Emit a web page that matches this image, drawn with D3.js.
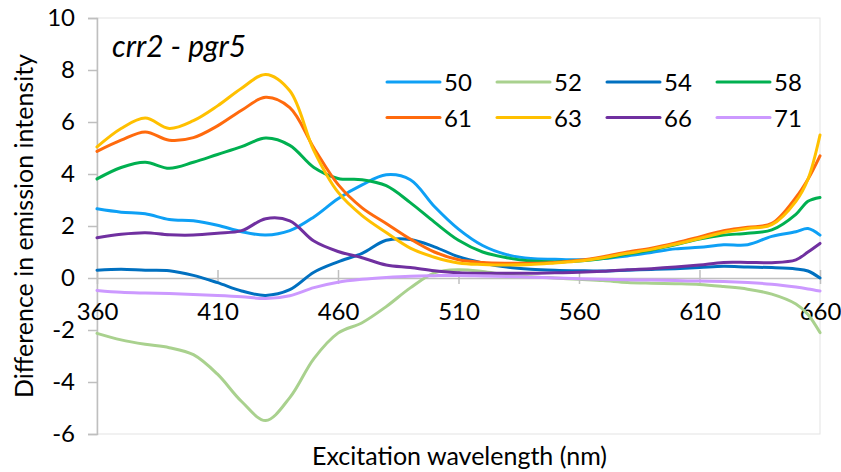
<!DOCTYPE html>
<html>
<head>
<meta charset="utf-8">
<script src="https://cdn.jsdelivr.net/npm/d3@7"></script>
<style>
  body { margin: 0; background: #fff; }
  svg text { font-family: Lato, "Open Sans", sans-serif; fill: #000; }
</style>
</head>
<body>
<svg id="chart" width="841" height="472"></svg>
<script>
// Excitation wavelengths (nm)
const wavelengths = [360, 370, 380, 390, 400, 410, 420, 430, 440, 450, 460, 470, 480, 490, 500,
  510, 520, 530, 540, 550, 560, 570, 580, 590, 600, 610, 620, 630, 640, 650, 655, 660];

const seriesNames = ["50", "52", "54", "58", "61", "63", "66", "71"];
const seriesColors = ["#0ea0f5", "#a9d18e", "#0070c0", "#00b050", "#ff6a0d", "#ffc000", "#7030a0", "#cc99ff"];

const s50 = [2.66, 2.53, 2.47, 2.25, 2.2, 2.03, 1.78, 1.65, 1.82, 2.35, 3.05, 3.58, 3.97, 3.78, 2.75,
  1.88, 1.25, 0.9, 0.75, 0.72, 0.7, 0.75, 0.85, 0.98, 1.12, 1.18, 1.28, 1.28, 1.6, 1.78, 1.9, 1.65];
const s52 = [-2.13, -2.38, -2.55, -2.68, -2.95, -3.7, -4.75, -5.48, -4.6, -3.1, -2.12, -1.72, -1.1, -0.38, 0.2,
  0.32, 0.25, 0.12, 0.05, 0.0, -0.05, -0.1, -0.17, -0.2, -0.22, -0.25, -0.33, -0.43, -0.62, -1.0, -1.4, -2.1];
const s54 = [0.3, 0.34, 0.3, 0.28, 0.1, -0.18, -0.5, -0.67, -0.45, 0.22, 0.62, 0.95, 1.45, 1.48, 1.2,
  0.82, 0.58, 0.42, 0.34, 0.3, 0.28, 0.27, 0.3, 0.33, 0.36, 0.4, 0.45, 0.42, 0.4, 0.35, 0.27, 0.0];
const s58 = [3.81, 4.25, 4.45, 4.22, 4.45, 4.75, 5.05, 5.38, 5.1, 4.25, 3.83, 3.78, 3.55, 2.9, 2.15,
  1.45, 1.0, 0.78, 0.65, 0.62, 0.65, 0.75, 0.92, 1.08, 1.28, 1.5, 1.65, 1.72, 1.85, 2.45, 2.95, 3.1];
const s61 = [4.87, 5.3, 5.62, 5.3, 5.4, 5.85, 6.45, 6.95, 6.55, 5.0, 3.6, 2.7, 2.1, 1.5, 1.0,
  0.7, 0.6, 0.57, 0.57, 0.6, 0.68, 0.82, 1.0, 1.15, 1.35, 1.58, 1.82, 1.95, 2.1, 3.1, 3.8, 4.7];
const s63 = [5.04, 5.75, 6.15, 5.75, 6.05, 6.62, 7.3, 7.83, 7.2, 4.9, 3.3, 2.4, 1.75, 1.15, 0.8,
  0.58, 0.52, 0.5, 0.52, 0.58, 0.65, 0.78, 0.95, 1.1, 1.3, 1.52, 1.75, 1.9, 2.05, 2.95, 3.8, 5.5];
const s66 = [1.55, 1.68, 1.74, 1.66, 1.65, 1.72, 1.82, 2.28, 2.2, 1.42, 1.02, 0.78, 0.5, 0.4, 0.28,
  0.2, 0.18, 0.18, 0.18, 0.2, 0.22, 0.26, 0.32, 0.36, 0.42, 0.5, 0.6, 0.6, 0.59, 0.7, 1.0, 1.33];
const s71 = [-0.48, -0.55, -0.58, -0.6, -0.63, -0.67, -0.72, -0.79, -0.68, -0.37, -0.16, -0.05, 0.02, 0.07, 0.09,
  0.1, 0.08, 0.06, 0.03, 0.0, -0.03, -0.05, -0.07, -0.08, -0.1, -0.12, -0.13, -0.17, -0.24, -0.35, -0.42, -0.5];

const seriesValues = [s50, s52, s54, s58, s61, s63, s66, s71];
const xTicks = [360, 410, 460, 510, 560, 610, 660];
const yTicks = [-6, -4, -2, 0, 2, 4, 6, 8, 10];

const svg = d3.select("#chart");
const plotLeft = 97, plotRight = 820, plotTop = 18, plotBottom = 434;
const axisColor = "#bfbfbf";

const x = d3.scaleLinear().domain([360, 660]).range([plotLeft, plotRight]);
const y = d3.scaleLinear().domain([-6, 10]).range([plotBottom, plotTop]);

// plot area frame (faint)
svg.append("rect")
  .attr("x", plotLeft).attr("y", plotTop)
  .attr("width", plotRight - plotLeft).attr("height", plotBottom - plotTop)
  .attr("fill", "none")
  .attr("stroke", "#e3e3e3")
  .attr("stroke-width", 1);

// y axis (plain hyphen for negatives, like the source)
const yAxis = svg.append("g")
  .attr("transform", `translate(${plotLeft},0)`)
  .call(d3.axisLeft(y).tickValues(yTicks).tickSize(9).tickPadding(13).tickFormat(d => String(d)));
yAxis.select(".domain").attr("stroke", axisColor).attr("stroke-width", 1.5);
yAxis.selectAll(".tick line").attr("stroke", axisColor).attr("stroke-width", 1.5);
yAxis.selectAll(".tick text")
  .style("font-size", "24px")
  .attr("fill", "#000");

// x axis sits at zero, ticks cross the line
const xAxis = svg.append("g")
  .attr("transform", `translate(0,${y(0)})`)
  .call(d3.axisBottom(x).tickValues(xTicks).tickSize(0).tickPadding(25));
xAxis.select(".domain").attr("stroke", axisColor).attr("stroke-width", 1.5);
xAxis.selectAll(".tick line").remove();
xAxis.selectAll(".tick").append("line")
  .attr("y1", -8).attr("y2", 6)
  .attr("stroke", axisColor).attr("stroke-width", 1.5);
xAxis.selectAll(".tick text")
  .style("font-size", "24px")
  .attr("fill", "#000");

// lines
const line = d3.line()
  .x((d, i) => x(wavelengths[i]))
  .y(d => y(d))
  .curve(d3.curveCatmullRom.alpha(0.5));

svg.append("g")
  .selectAll("path")
  .data(seriesValues)
  .join("path")
  .attr("d", line)
  .attr("fill", "none")
  .attr("stroke", (d, i) => seriesColors[i])
  .attr("stroke-width", 3)
  .attr("stroke-linejoin", "round")
  .attr("stroke-linecap", "round");

// title inside plot
svg.append("text")
  .attr("x", 112).attr("y", 57)
  .style("font-size", "30px")
  .style("font-style", "italic")
  .text("crr2 - pgr5");

// legend, 4 columns x 2 rows
const legend = svg.append("g")
  .selectAll("g")
  .data(seriesNames)
  .join("g")
  .attr("transform", (d, i) => `translate(${387 + (i % 4) * 110},${82 + Math.floor(i / 4) * 35.5})`);

legend.append("line")
  .attr("x1", 0).attr("x2", 53)
  .attr("stroke", (d, i) => seriesColors[i])
  .attr("stroke-width", 3)
  .attr("stroke-linecap", "round");

legend.append("text")
  .attr("x", 57).attr("y", 9)
  .style("font-size", "24px")
  .text(d => d);

// axis titles
svg.append("text")
  .attr("x", (plotLeft + plotRight) / 2 + 1).attr("y", 465)
  .attr("text-anchor", "middle")
  .style("font-size", "25px")
  .text("Excitation wavelength (nm)");

svg.append("text")
  .attr("transform", `translate(33,${(plotTop + plotBottom) / 2}) rotate(-90)`)
  .attr("text-anchor", "middle")
  .style("font-size", "25px")
  .text("Difference in emission intensity");
</script>
</body>
</html>
